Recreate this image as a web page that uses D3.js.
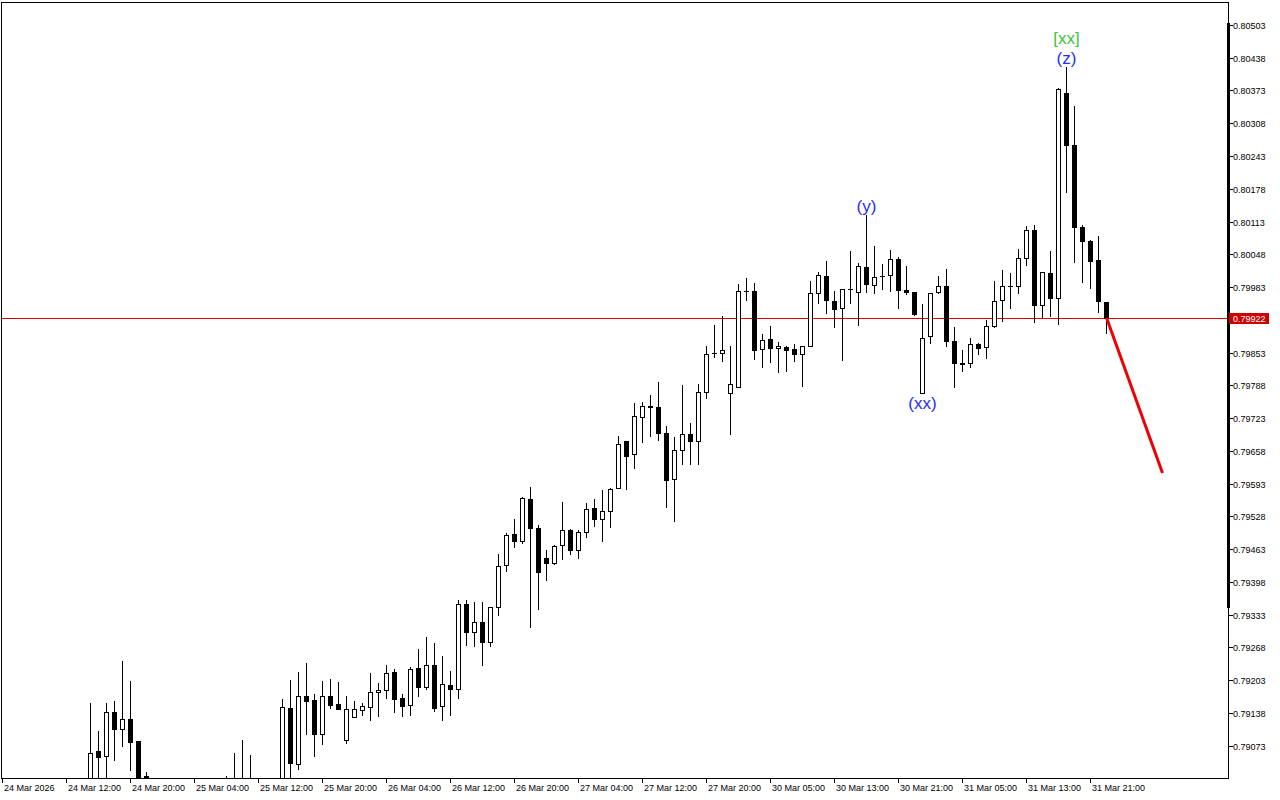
<!DOCTYPE html>
<html><head><meta charset="utf-8">
<script src="https://cdn.jsdelivr.net/npm/d3@7"></script>
<style>html,body{margin:0;padding:0;background:#fff;}svg{display:block;}</style>
</head><body>
<svg id="chart" width="1280" height="800"></svg>
<script>
// Hourly bars; null = bar outside the visible price range
const opens = [0.78975,0.79062,0.79053,0.79139,0.79106,0.79125,0.79082,0.79012,null,null,null,null,null,null,null,null,null,0.78990,0.78995,0.78990,0.78998,null,null,null,
0.78995,0.79147,0.79037,0.79172,0.79163,0.79096,0.79172,0.79155,0.79083,0.79129,0.79144,0.79149,0.79180,0.79184,0.79218,0.79167,0.79153,0.79226,0.79190,0.79232,0.79151,0.79194,0.79186,0.79353,0.79299,0.79319,0.79279,0.79347,0.79432,0.79492,0.79479,0.79563,0.79504,0.79446,0.79436,0.79470,0.79500,0.79462,0.79496,0.79544,0.79522,0.79538,0.79585,0.79677,0.79651,0.79724,0.79746,0.79744,0.79694,0.79601,0.79659,0.79692,0.79677,0.79774,0.79853,0.79853,0.79772,0.79784,0.79976,0.79976,0.79859,0.79879,0.79861,0.79863,0.79859,0.79851,0.79865,0.79972,0.80004,0.79955,0.79941,0.79979,0.79974,0.80022,0.79986,0.80005,0.80006,0.80038,0.79978,0.79974,0.79772,0.79885,0.79974,0.79984,0.79875,0.79833,0.79833,0.79869,0.79863,0.79905,0.79957,0.79985,0.79984,0.80040,0.80097,0.79947,0.80010,0.79962,0.80369,0.80264,0.80103,0.80074,0.80036,0.79953];
const highs = [0.79157,0.79102,0.79157,0.79161,0.79241,0.79201,0.79082,0.79020,null,null,null,null,null,null,null,null,null,0.79012,0.79058,0.79084,0.79054,null,null,null,
0.79165,0.79203,0.79219,0.79237,0.79175,0.79201,0.79205,0.79199,0.79171,0.79161,0.79157,0.79217,0.79197,0.79233,0.79225,0.79175,0.79229,0.79264,0.79288,0.79276,0.79250,0.79221,0.79362,0.79361,0.79358,0.79357,0.79347,0.79454,0.79494,0.79522,0.79566,0.79586,0.79510,0.79462,0.79470,0.79556,0.79503,0.79500,0.79554,0.79562,0.79581,0.79585,0.79687,0.79677,0.79753,0.79755,0.79768,0.79794,0.79708,0.79685,0.79788,0.79713,0.79790,0.79865,0.79908,0.79925,0.79865,0.79988,0.80000,0.79990,0.79889,0.79905,0.79873,0.79865,0.79869,0.79865,0.79994,0.80012,0.80034,0.79976,0.79980,0.80054,0.80030,0.80125,0.80064,0.80028,0.80056,0.80042,0.80024,0.79974,0.79949,0.79972,0.80004,0.80018,0.79903,0.79857,0.79881,0.79871,0.79917,0.79994,0.80016,0.80010,0.80058,0.80105,0.80107,0.80012,0.80054,0.80377,0.80419,0.80342,0.80107,0.80076,0.80084,0.79953];
const lows = [0.78965,0.78985,0.79011,0.79044,0.79072,0.79024,0.78990,0.78970,null,null,null,null,null,null,null,null,null,0.78960,0.78970,0.78975,0.78970,null,null,null,
0.78980,0.79011,0.79027,0.79096,0.79053,0.79076,0.79148,0.79146,0.79078,0.79129,0.79134,0.79124,0.79132,0.79168,0.79140,0.79132,0.79134,0.79172,0.79186,0.79142,0.79124,0.79134,0.79168,0.79273,0.79271,0.79233,0.79271,0.79332,0.79420,0.79466,0.79474,0.79309,0.79344,0.79402,0.79433,0.79444,0.79454,0.79446,0.79486,0.79508,0.79478,0.79506,0.79585,0.79583,0.79624,0.79676,0.79688,0.79680,0.79547,0.79519,0.79632,0.79632,0.79632,0.79763,0.79845,0.79837,0.79691,0.79784,0.79958,0.79841,0.79825,0.79835,0.79814,0.79816,0.79837,0.79786,0.79865,0.79951,0.79931,0.79903,0.79839,0.79951,0.79907,0.79974,0.79972,0.79980,0.79976,0.79941,0.79970,0.79927,0.79772,0.79871,0.79972,0.79865,0.79784,0.79816,0.79825,0.79851,0.79843,0.79903,0.79915,0.79941,0.79972,0.80026,0.79913,0.79923,0.79925,0.79909,0.80171,0.80032,0.79992,0.79982,0.79933,0.79891];
const closes = [0.79059,0.79051,0.79139,0.79106,0.79125,0.79080,0.79011,0.78985,null,null,null,null,null,null,null,null,null,0.78985,0.78990,0.78998,0.78992,null,null,null,
0.79149,0.79039,0.79172,0.79162,0.79096,0.79172,0.79154,0.79146,0.79145,0.79145,0.79151,0.79180,0.79184,0.79216,0.79166,0.79152,0.79224,0.79190,0.79232,0.79148,0.79196,0.79186,0.79353,0.79299,0.79319,0.79279,0.79347,0.79430,0.79490,0.79478,0.79565,0.79504,0.79418,0.79436,0.79468,0.79500,0.79462,0.79496,0.79542,0.79522,0.79538,0.79583,0.79671,0.79648,0.79726,0.79746,0.79744,0.79694,0.79599,0.79659,0.79692,0.79677,0.79774,0.79851,0.79853,0.79857,0.79790,0.79976,0.79976,0.79857,0.79877,0.79861,0.79865,0.79857,0.79851,0.79865,0.79972,0.80006,0.79957,0.79939,0.79980,0.79979,0.80024,0.79988,0.80002,0.80005,0.80038,0.79978,0.79974,0.79929,0.79881,0.79972,0.79984,0.79875,0.79833,0.79831,0.79869,0.79861,0.79905,0.79955,0.79984,0.79985,0.80040,0.80097,0.79947,0.80012,0.79962,0.80375,0.80264,0.80103,0.80074,0.80034,0.79955,0.79922];

const priceTicks = [0.80503,0.80438,0.80373,0.80308,0.80243,0.80178,0.80113,0.80048,0.79983,0.79853,0.79788,0.79723,0.79658,0.79593,0.79528,0.79463,0.79398,0.79333,0.79268,0.79203,0.79138,0.79073];
const timeTickBars = [-11,-3,5,13,21,29,37,45,53,61,69,77,85,93,101,109,117,125];
const timeTickLabels = ["24 Mar 2026","24 Mar 12:00","24 Mar 20:00","25 Mar 04:00","25 Mar 12:00","25 Mar 20:00","26 Mar 04:00","26 Mar 12:00","26 Mar 20:00","27 Mar 04:00","27 Mar 12:00","27 Mar 20:00","30 Mar 05:00","30 Mar 13:00","30 Mar 21:00","31 Mar 05:00","31 Mar 13:00","31 Mar 21:00"];
const currentPrice = 0.79922;
const forecastBars = [127, 134];
const forecastPrices = [0.79922, 0.79614];
const waveLabels = [
  {bar:97, text:"(y)", price:0.80125, pos:"above", color:"#1f2bff"},
  {bar:104, text:"(xx)", price:0.79772, pos:"below", color:"#1f2bff"},
  {bar:122, text:"(z)", price:0.80419, pos:"above", color:"#1f2bff"},
  {bar:122, text:"[xx]", price:0.80419, pos:"above2", color:"#3cc43c"}
];

const svg = d3.select("#chart");
const plot = {left:2, top:2, right:1228, bottom:778};
const x = d3.scaleLinear().domain([-11, 142]).range([2, 1226]);
const y = d3.scaleLinear().domain([0.79073, 0.80503]).range([745.5, 25]);

svg.append("defs").append("clipPath").attr("id","clip")
  .append("rect").attr("x",plot.left).attr("y",plot.top+1).attr("width",plot.right-plot.left).attr("height",plot.bottom-plot.top-1);

const g = svg.append("g").attr("clip-path","url(#clip)");

// current price line
g.append("line").attr("x1",plot.left).attr("x2",plot.right)
  .attr("y1",Math.round(y(currentPrice))+0.5).attr("y2",Math.round(y(currentPrice))+0.5)
  .attr("stroke","#e00000").attr("stroke-width",1);

const bars = d3.range(opens.length).filter(i => opens[i] !== null)
  .map(i => ({i, o:opens[i], h:highs[i], l:lows[i], c:closes[i]}));

const cg = g.append("g");
bars.forEach(d => {
  const xs = Math.round(x(d.i));
  const yh = Math.round(y(d.h)), yl = Math.round(y(d.l));
  cg.append("rect").attr("x",xs).attr("y",yh).attr("width",1).attr("height",yl-yh+1).attr("fill","#000");
  const top = Math.round(y(Math.max(d.o,d.c))), bot = Math.round(y(Math.min(d.o,d.c)));
  cg.append("rect").attr("x",xs-2).attr("y",top).attr("width",5).attr("height",bot-top+1).attr("fill","#000");
  if (d.c > d.o && bot-top-1 > 0) {
    cg.append("rect").attr("x",xs-1).attr("y",top+1).attr("width",3).attr("height",bot-top-1).attr("fill","#fff");
  }
});

// forecast line
g.append("line")
  .attr("x1",x(forecastBars[0])+0.5).attr("y1",y(forecastPrices[0]))
  .attr("x2",x(forecastBars[1])+0.5).attr("y2",y(forecastPrices[1]))
  .attr("stroke","#f00000").attr("stroke-width",3);

// wave labels
waveLabels.forEach(w => {
  const xs = x(w.bar)+0.5;
  let yy;
  if (w.pos==="above") yy = y(w.price) - 9;
  else if (w.pos==="above2") yy = y(w.price) - 29;
  else yy = y(w.price) + 10;
  svg.append("text").attr("x",xs).attr("y",yy)
    .attr("text-anchor","middle").attr("dominant-baseline","central")
    .attr("font-family","Liberation Sans, Arial, sans-serif").attr("font-size",17)
    .attr("fill",w.color).text(w.text);
});

// frame
svg.append("rect").attr("x",1.5).attr("y",2.5).attr("width",1227).attr("height",776)
  .attr("fill","none").attr("stroke","#000").attr("stroke-width",1);
// thick right bar
svg.append("rect").attr("x",1227).attr("y",23).attr("width",3).attr("height",585).attr("fill","#000");

// y axis ticks and labels
const ya = svg.append("g");
priceTicks.forEach(p => {
  const yy = Math.round(y(p))+0.5;
  ya.append("line").attr("x1",1229).attr("x2",1233).attr("y1",yy).attr("y2",yy).attr("stroke","#000");
  ya.append("text").attr("x",1233).attr("y",yy).attr("dominant-baseline","central")
    .attr("font-family","Liberation Sans, Arial, sans-serif").attr("font-size",9).attr("fill","#000")
    .text(d3.format(".5f")(p));
});
// current price label
const cy = Math.round(y(currentPrice))+0.5;
svg.append("rect").attr("x",1229).attr("y",cy-5.5).attr("width",40).attr("height",11).attr("fill","#d00000");
svg.append("text").attr("x",1233).attr("y",cy).attr("dominant-baseline","central")
  .attr("font-family","Liberation Sans, Arial, sans-serif").attr("font-size",9).attr("fill","#fff")
  .text(d3.format(".5f")(currentPrice));

// x axis ticks and labels
const xa = svg.append("g");
timeTickBars.forEach((b,k) => {
  const xx = Math.round(x(b))+0.5;
  xa.append("line").attr("x1",xx).attr("x2",xx).attr("y1",779).attr("y2",783).attr("stroke","#000");
  xa.append("text").attr("x",xx+1.5).attr("y",791)
    .attr("font-family","Liberation Sans, Arial, sans-serif").attr("font-size",9).attr("fill","#000")
    .text(timeTickLabels[k]);
});
</script>
</body></html>
